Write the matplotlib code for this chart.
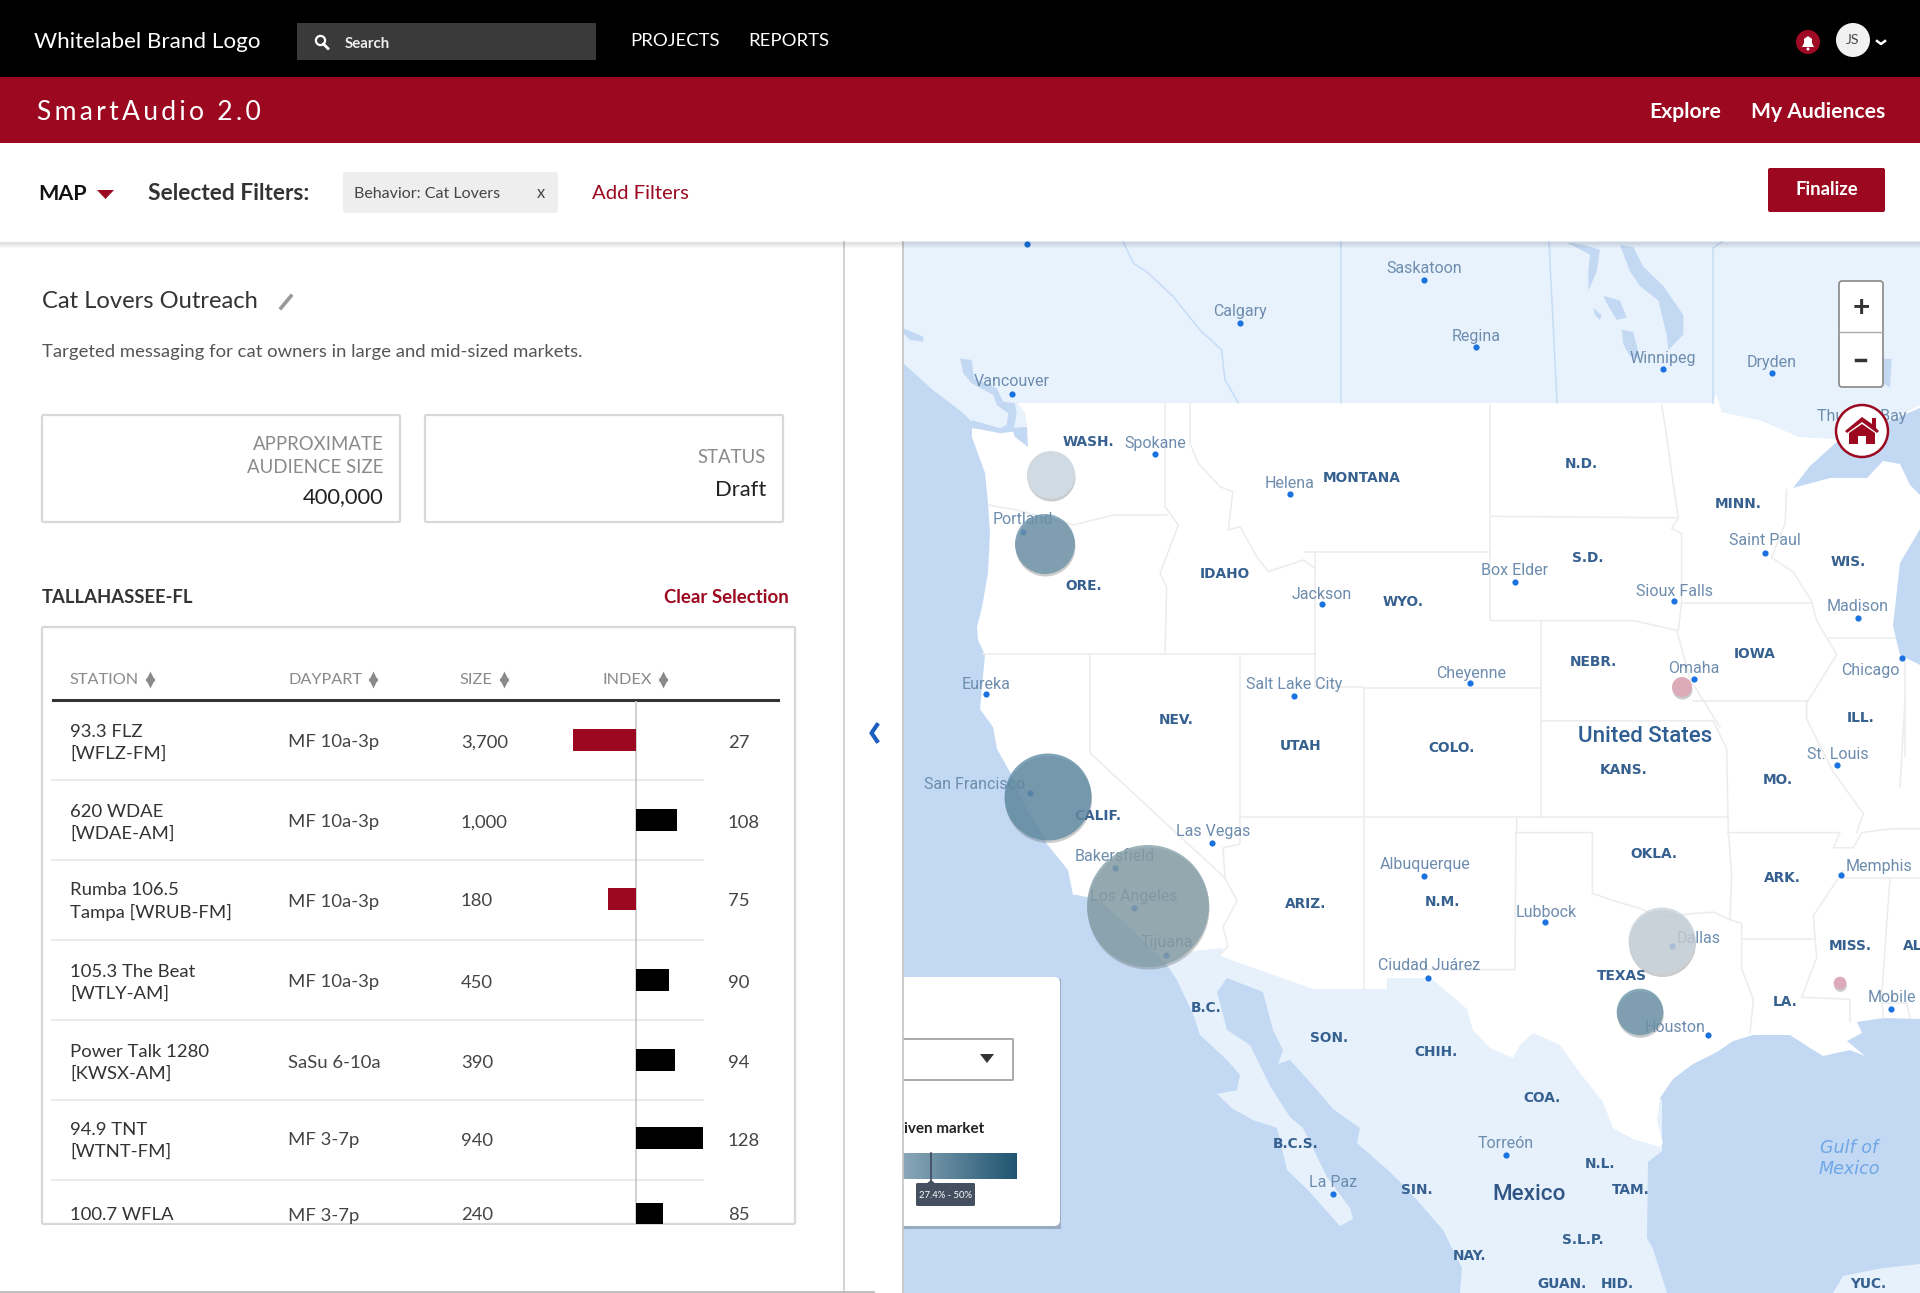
#!/usr/bin/env python3
"""SmartAudio map screen: audience panel, station table and market bubble map."""

import matplotlib
matplotlib.use("Agg")
import matplotlib.pyplot as plt
import numpy as np
from matplotlib.colors import LinearSegmentedColormap
from matplotlib.patches import Circle, FancyBboxPatch, Polygon, Rectangle

plt.rcParams["font.family"] = ["Lato", "DejaVu Sans"]

W, H = 1920, 1293
RED = "#9b081f"
WATER = "#c3d9f3"
FOREIGN = "#e6f1fc"
BORDER = "#ececec"
CITY = "#6d8cae"
STATE = "#35608f"

# table
stations = ["93.3 FLZ\n[WFLZ-FM]", "620 WDAE\n[WDAE-AM]", "Rumba 106.5\nTampa [WRUB-FM]",
            "105.3 The Beat\n[WTLY-AM]", "Power Talk 1280\n[KWSX-AM]", "94.9 TNT\n[WTNT-FM]", "100.7 WFLA"]
dayparts = ["MF 10a-3p", "MF 10a-3p", "MF 10a-3p", "MF 10a-3p", "SaSu 6-10a", "MF 3-7p", "MF 3-7p"]
sizes = ["3,700", "1,000", "180", "450", "390", "940", "240"]
index_values = [27, 108, 75, 90, 94, 128, 85]
index_bars = [-63, 41, -28, 33, 39, 67, 27]
row_y = [741, 821, 900, 981, 1061, 1139, 1214]
bar_y = [740, 820, 898.5, 979.5, 1060, 1138, 1214]
row_rules = [780, 860, 940, 1020, 1100, 1180]

# bubbles on the map
bubble_x = [1051, 1045, 1048, 1148, 1662, 1640, 1682, 1840]
bubble_y = [475, 544, 797, 906, 941, 1012, 687, 983]
bubble_r = [24, 30, 43.5, 61, 33.5, 23.3, 10, 6.3]
bubble_c = ["#cfdae2", "#6c94ab", "#608ca6", "#86a0a9", "#c9d4dc", "#6c94ab", "#dcaab9", "#dcaab9"]
bubble_a = [1.0, 0.8, 0.8, 0.8, 0.8, 0.8, 1.0, 1.0]

# city name, label x, label y, dot x, dot y
city_names = ["Vancouver", "Calgary", "Spokane", "Portland", "Helena", "Jackson", "Eureka", "Salt Lake City",
              "Saskatoon", "Regina", "Winnipeg", "Dryden", "Thunder Bay", "Saint Paul", "Box Elder", "Sioux Falls",
              "Madison", "Omaha", "Chicago", "Cheyenne", "St. Louis", "Memphis", "Albuquerque", "Lubbock",
              "Ciudad Juárez", "Dallas", "Houston", "Mobile", "Torreón", "San Francisco", "Las Vegas", "Bakersfield",
              "Los Angeles", "Tijuana", "La Paz"]
city_lx = [1012, 1240, 1155, 1023, 1290, 1322, 986, 1294, 1424, 1476, 1663, 1772, 1862, 1765, 1515, 1674,
           1858, 1694, 1870, 1471, 1838, 1879, 1425, 1546, 1429, 1699, 1675, 1892, 1506, 975, 1213, 1115,
           1134, 1167, 1333]
city_ly = [380, 310, 442, 518, 482, 593, 683, 683, 267, 335, 357, 361, 415, 539, 569, 590,
           605, 667, 669, 672, 753, 865, 863, 911, 964, 937, 1026, 996, 1142, 783, 830, 855,
           895, 941, 1181]
city_dx = [1012, 1240, 1155, 1023, 1290, 1322, 986, 1294, 1424, 1476, 1663, 1772, 1862, 1765, 1515, 1674,
           1858, 1694, 1902, 1470, 1837, 1841, 1424, 1545, 1428, 1672, 1708, 1891, 1506, 1030, 1212, 1115,
           1134, 1166, 1333]
city_dy = [394, 323, 454, 532, 494, 604, 694, 696, 280, 347, 369, 373, 428, 553, 582, 601,
           618, 679, 658, 683, 765, 875, 876, 922, 978, 946, 1035, 1009, 1155, 793, 843, 868,
           908, 955, 1194]

state_names = ["WASH.", "ORE.", "IDAHO", "MONTANA", "WYO.", "NEV.", "UTAH", "CALIF.", "ARIZ.", "B.C.", "SON.",
               "B.C.S.", "N.D.", "S.D.", "MINN.", "WIS.", "NEBR.", "IOWA", "ILL.", "COLO.", "KANS.", "MO.",
               "OKLA.", "ARK.", "N.M.", "TEXAS", "MISS.", "AL", "LA.", "CHIH.", "COA.", "N.L.", "TAM.", "SIN.",
               "S.L.P.", "NAY.", "GUAN.", "HID.", "YUC."]
state_x = [1088, 1084, 1225, 1362, 1403, 1176, 1301, 1098, 1306, 1206, 1329,
           1296, 1581, 1588, 1738, 1848, 1593, 1755, 1861, 1452, 1624, 1778,
           1654, 1782, 1442, 1622, 1850, 1913, 1785, 1436, 1542, 1600, 1631, 1417,
           1583, 1470, 1562, 1617, 1868]
state_y = [440, 584, 572, 476, 601, 718, 745, 815, 903, 1006, 1036,
           1142, 462, 556, 503, 561, 660, 652, 716, 747, 768, 779,
           852, 877, 900, 975, 944, 945, 1001, 1050, 1096, 1163, 1189, 1189,
           1238, 1255, 1282, 1282, 1282]


def c4(pts):
    return [(900 + x / 3, 240 + y / 3) for x, y in pts]


def c5(pts):
    return [(1400 + x / 3, y / 2.0625) for x, y in pts]


def c6(pts):
    return [(900 + x / 3, 700 + y / 2.64) for x, y in pts]


def c7(pts):
    return [(1400 + x / 3, 700 + y / 2.64) for x, y in pts]


canada_outline = [(903, 241), (1920, 241), (1920, 405), (1880, 425), (1840, 439), (1800, 437), (1760, 420),
                  (1722, 412), (1716, 393), (1713, 403), (1017, 403), (1025, 413), (1027, 427), (1012, 428),
                  (1000, 433), (972, 422), (963, 413), (933, 390), (903, 363)]
mexico_outline = [(1167, 965), (1177, 980), (1193, 1014), (1200, 1035), (1227, 1060), (1240, 1075), (1237, 1090),
                  (1217, 1094), (1233, 1109), (1253, 1120), (1277, 1128), (1287, 1170), (1307, 1189), (1340, 1226),
                  (1353, 1219), (1350, 1208), (1327, 1177), (1303, 1128), (1290, 1117), (1270, 1086), (1250, 1045),
                  (1227, 1030), (1217, 992), (1227, 978), (1263, 992), (1273, 1030), (1283, 1050), (1278, 1064),
                  (1290, 1060), (1317, 1090), (1333, 1109), (1360, 1128), (1357, 1143), (1390, 1172), (1407, 1189),
                  (1417, 1200), (1443, 1230), (1462, 1268), (1460, 1293), (1667, 1293), (1653, 1249), (1647, 1238),
                  (1648, 1162), (1662, 1151), (1662, 1100), (1500, 950), (1300, 900), (1180, 930)]
yucatan_outline = [(1833, 1293), (1843, 1276), (1883, 1268), (1920, 1264), (1920, 1293)]
us_outline = [(1017, 403), (1713, 403), (1716, 393), (1722, 412), (1760, 420), (1800, 437), (1840, 439), (1880, 425),
              (1920, 405), (1920, 1019), (1883, 1018), (1857, 1022), (1862, 1033), (1847, 1041), (1865, 1056),
              (1850, 1050), (1823, 1056), (1810, 1048), (1790, 1035), (1753, 1035), (1733, 1041), (1717, 1052),
              (1693, 1064), (1673, 1079), (1660, 1098), (1657, 1120), (1663, 1143), (1660, 1147), (1633, 1139),
              (1613, 1128), (1603, 1102), (1580, 1073), (1560, 1045), (1533, 1033), (1520, 1045), (1513, 1058),
              (1490, 1048), (1473, 1030), (1467, 1009), (1433, 980), (1428, 978), (1387, 978), (1387, 989),
              (1313, 989), (1220, 956), (1223, 948), (1193, 951), (1167, 965), (1133, 931), (1100, 900), (1077, 895),
              (1073, 895), (1068, 870), (1047, 844), (1040, 829), (1027, 810), (1010, 772), (997, 749), (993, 727),
              (980, 709), (985, 655), (978, 640), (977, 627), (982, 607), (988, 573), (990, 533), (988, 503),
              (985, 473), (972, 437), (972, 428), (1000, 433), (1012, 428), (1015, 437), (1028, 447), (1027, 427),
              (1025, 413)]
lake_superior = [(1793, 488), (1810, 466), (1840, 439), (1880, 425), (1920, 408), (1920, 495), (1910, 485),
                 (1900, 464), (1883, 461), (1867, 478), (1830, 478)]
lake_michigan = [(1920, 529), (1900, 563), (1893, 626), (1900, 655), (1920, 665)]
canada_lakes = [
    c5([(660, 505), (700, 510), (730, 550), (790, 590), (825, 625), (850, 650), (850, 690), (805, 722), (800, 690),
        (775, 620), (720, 590), (690, 560)]),
    c5([(665, 680), (700, 685), (720, 740), (690, 735), (670, 710)]),
    c5([(500, 500), (550, 505), (600, 515), (590, 560), (565, 600), (565, 560), (570, 525)]),
    c5([(610, 610), (660, 620), (680, 655), (650, 660), (620, 625)]),
    c5([(580, 635), (605, 650), (600, 660), (585, 650)]),
    c5([(1440, 740), (1475, 740), (1470, 800), (1450, 790)]),
    c4([(10, 265), (70, 290), (70, 305), (30, 300), (10, 280)]),
    c4([(180, 355), (215, 360), (222, 415), (290, 445), (310, 485), (345, 490), (350, 520), (340, 575), (300, 580),
        (215, 548), (215, 540), (300, 565), (320, 555), (325, 520), (290, 495), (280, 465), (215, 430), (190, 400)]),
]
province_lines = [
    [(1341, 241), (1341, 403)], [(1549, 241), (1557, 403)], [(1723, 241), (1713, 248), (1713, 403)],
    c4([(670, 5), (700, 70), (740, 95), (820, 170), (900, 270), (965, 330), (975, 420), (1015, 488)]),
]
state_lines = [
    c4([(795, 490), (795, 800), (835, 855), (780, 1000), (800, 1040), (795, 1240)]),
    c4([(265, 795), (350, 810), (520, 855), (640, 825), (800, 825)]),
    c4([(250, 1242), (1245, 1242)]),
    c4([(870, 490), (870, 610), (895, 670), (960, 740), (998, 755), (985, 870), (1020, 860), (1070, 950),
        (1105, 995), (1210, 960), (1245, 985)]),
    c4([(1245, 935), (1245, 1342), (1393, 1342)]),
    [(1305, 552), (1490, 552)],
    [(1090, 655), (1090, 753), (1225, 878)],
    [(1225, 878), (1237, 901), (1223, 927), (1228, 946), (1220, 955)],
    [(1240, 655), (1240, 844), (1223, 848), (1225, 878)],
    [(1240, 817), (1727, 817)],
    [(1364, 688), (1364, 989)],
    [(1364, 688), (1540, 688)],
    [(1541, 621), (1541, 817)],
    c7([(350, 310), (350, 350), (577, 350), (577, 510), (640, 530), (720, 550), (780, 575), (860, 565), (940, 560),
        (990, 580), (1025, 590), (1025, 710), (1060, 790), (1050, 880)]),
    c7([(348, 350), (345, 712), (0, 712)]),
    c7([(985, 350), (995, 460), (990, 580)]),
    c7([(1025, 630), (1240, 630)]),
    c7([(985, 350), (1320, 350), (1300, 390), (1360, 390), (1385, 350), (1475, 340), (1560, 340)]),
    c7([(425, 55), (940, 55), (980, 130), (985, 350)]),
    c5([(270, 835), (270, 1280), (700, 1280), (830, 1300), (870, 1400), (960, 1500)]),
    c5([(275, 1065), (830, 1068)]),
    c5([(785, 835), (800, 900), (820, 1000), (835, 1068), (815, 1090), (845, 1100), (845, 1240), (835, 1300)]),
    c5([(845, 1243), (1235, 1243)]),
    c5([(1160, 1010), (1155, 1080), (1115, 1150), (1180, 1180), (1235, 1240), (1250, 1280), (1280, 1315),
        (1310, 1350), (1220, 1450)]),
    c5([(1280, 1315), (1495, 1315)]),
    c5([(880, 1445), (1215, 1445)]),
    c5([(1515, 1300), (1515, 1560)]),
    c7([(1220, 0), (1220, 50), (1300, 190), (1390, 300), (1370, 350)]),
    c7([(1515, 0), (1500, 230)]),
    c7([(1330, 470), (1560, 470)]),
    c7([(1470, 470), (1445, 780), (1450, 840)]),
    c7([(1330, 450), (1240, 570), (1250, 680), (1205, 785), (1350, 790), (1350, 850)]),
    c7([(1450, 800), (1520, 800), (1530, 840)]),
]

fig = plt.figure(figsize=(W / 100, H / 100), dpi=100, facecolor="white")
ax = fig.add_axes([0, 0, 1, 1])
ax.set_xlim(0, W)
ax.set_ylim(H, 0)
ax.axis("off")


def txt(x, y, s, px, color="#333333", ha="left", va="center", z=12, **kw):
    return ax.text(x, y + 1.5, s, fontsize=px * 0.72, color=color, ha=ha, va=va, zorder=z, **kw)


def rect(x0, y0, x1, y1, color, z=1, **kw):
    ax.add_patch(Rectangle((x0, y0), x1 - x0, y1 - y0, facecolor=color, edgecolor="none", zorder=z, **kw))


def rbox(x0, y0, x1, y1, face, edge="none", lw=0, r=4, z=12):
    ax.add_patch(FancyBboxPatch((x0, y0), x1 - x0, y1 - y0, boxstyle=f"round,pad=0,rounding_size={r}",
                                facecolor=face, edgecolor=edge, linewidth=lw, zorder=z))


def poly(pts, color, z=2):
    ax.add_patch(Polygon(pts, closed=True, facecolor=color, edgecolor="none", zorder=z))


# --- map ---
rect(903, 241, W, H, WATER, z=1)
poly(canada_outline, "#e8f2fd")
poly(mexico_outline, FOREIGN)
poly(yucatan_outline, FOREIGN)
poly(us_outline, "white", z=3)
for lake in [lake_superior, lake_michigan] + canada_lakes:
    poly(lake, WATER, z=4)
for line in province_lines:
    ax.plot(*zip(*line), color="#c6dcf6", lw=1.1, zorder=3.5)
for line in state_lines:
    ax.plot(*zip(*line), color=BORDER, lw=1.1, zorder=3.5)

ax.scatter(city_dx, city_dy, s=20, color="#1a73e0", linewidths=0, zorder=5)
ax.scatter([1027], [244], s=20, color="#1a73e0", linewidths=0, zorder=5)
for name, x, y in zip(city_names, city_lx, city_ly):
    txt(x, y, name, 16, color=CITY, ha="center", z=5, family=["Roboto", "DejaVu Sans"])
for name, x, y in zip(state_names, state_x, state_y):
    txt(x, y, name, 13.7, color=STATE, ha="center", z=5, family="DejaVu Sans", weight="bold")
txt(1645, 735, "United States", 22.3, color="#2f5f92", ha="center", z=5, family="Roboto", weight="medium")
txt(1529, 1193, "Mexico", 22.5, color="#2f5685", ha="center", z=5, family="Roboto", weight="medium")
txt(1849, 1157, "Gulf of\nMexico", 17.5, color="#6fa6e6", ha="center", z=5, family="DejaVu Sans", style="italic",
    linespacing=1.2)

# bubbles, with a soft offset shadow underneath
for x, y, r, c, a in zip(bubble_x, bubble_y, bubble_r, bubble_c, bubble_a):
    ax.add_patch(Circle((x + 0.5, y + 2.5), r, facecolor="#555555", alpha=0.3, edgecolor="none", zorder=5.5))
    ax.add_patch(Circle((x, y), r, facecolor=c, alpha=a, edgecolor="none", zorder=6.1))

# zoom control and home button
rbox(1839, 281, 1883, 387, "white", "#888888", 1.2, r=3, z=8)
ax.plot([1839, 1883], [332, 332], color="#aaaaaa", lw=1, zorder=8.1)
txt(1861, 307, "+", 30, color="#333333", ha="center", z=8.2, weight="bold")
ax.plot([1856, 1865], [360, 360], color="#333333", lw=2.5, zorder=8.2)
ax.add_patch(Circle((1862, 431), 26, facecolor="white", edgecolor=RED, lw=1.8, zorder=8))
poly([(1845, 431), (1862, 417), (1872, 424), (1872, 418), (1876, 418), (1876, 428), (1879, 431), (1877, 433),
      (1862, 422), (1847, 433)], RED, z=8.1)
poly([(1849, 433), (1862, 424), (1875, 433), (1875, 444), (1866, 444), (1866, 436), (1858, 436), (1858, 444),
      (1849, 444)], RED, z=8.1)

# legend card sliding out from behind the left panel
rect(903, 979, 1061, 1229, "#7d8fa5", z=6.5, alpha=0.6)
rbox(900, 977, 1060, 1226, "white", r=6, z=7)
rbox(890, 1039, 1013, 1080, "white", "#aaaaaa", 1.4, r=0.5, z=7.1)
poly([(980, 1054), (994, 1054), (987, 1063)], "#333333", z=7.2)
txt(984, 1127, "given market", 15.3, color="#222222", ha="right", z=7.2, weight="bold")
legend_cmap = LinearSegmentedColormap.from_list("legend", ["#8ba8b9", "#1f5470"])
ax.imshow(np.linspace(0, 1, 256).reshape(1, -1), cmap=legend_cmap, extent=(903, 1017, 1179, 1153), aspect="auto",
          zorder=7.2)
ax.set_xlim(0, W)
ax.set_ylim(H, 0)
ax.plot([931, 931], [1153, 1183], color="#3d4b5c", lw=1.2, zorder=7.3)
poly([(926, 1184), (931, 1180), (936, 1184)], "#444f60", z=7.3)
rbox(916, 1183, 975, 1206, "#444f60", r=1.5, z=7.3)
txt(945.5, 1194, "27.4% - 50%", 9.5, color="white", ha="center", z=7.4)

# --- left panel ---
rect(0, 241, 844, H, "white", z=9)
rect(844, 241, 903, H, "white", z=9)
ax.plot([844, 844], [241, H], color="#cccccc", lw=1.2, zorder=9.1)
ax.plot([903, 903], [241, H], color="#c4c4c4", lw=1.2, zorder=9.1)
ax.plot([0, 873], [H - 1, H - 1], color="#bbbbbb", lw=2, zorder=9.1)
ax.plot([877, 871.5, 877], [725, 733, 741], color="#1d5fc0", lw=3, zorder=9.2)

txt(41.5, 300.5, "Cat Lovers Outreach", 23.7, color="#333333", z=10)
ax.plot([281, 291], [308, 296], color="#999999", lw=2.6, zorder=10)
txt(41.5, 350, "Targeted messaging for cat owners in large and mid-sized markets.", 18.5, color="#555555", z=10)

rbox(42, 415, 400, 522, "white", "#d8d8d8", 1.6, r=1.5, z=10)
rbox(425, 415, 783, 522, "white", "#d8d8d8", 1.6, r=1.5, z=10)
txt(383.5, 443, "APPROXIMATE", 18.7, color="#8a8a8a", ha="right")
txt(383.5, 466, "AUDIENCE SIZE", 18.7, color="#8a8a8a", ha="right")
txt(383.5, 496, "400,000", 22, color="#222222", ha="right")
txt(766, 456, "STATUS", 18.7, color="#8a8a8a", ha="right")
txt(766, 488, "Draft", 22, color="#222222", ha="right")

txt(42, 596, "TALLAHASSEE-FL", 18.5, color="#333333", weight="bold")
txt(789, 596, "Clear Selection", 18.6, color=RED, ha="right", weight="bold")

rbox(42, 627, 795, 1224, "white", "#d8d8d8", 1.6, r=1.5, z=10)
for label, x, ax_x in zip(["STATION", "DAYPART", "SIZE", "INDEX"], [70, 288.5, 459, 602], [150, 373, 504, 663]):
    txt(x, 678, label, 16.3, color="#8a8a8a")
    ax.scatter([ax_x], [675.5], marker="^", s=50, color="#8a8a8a", linewidths=0, zorder=12)
    ax.scatter([ax_x], [682.5], marker="v", s=50, color="#8a8a8a", linewidths=0, zorder=12)
ax.plot([53, 778], [699.5, 699.5], color="#333333", lw=2.2, zorder=12)
for y in row_rules:
    ax.plot([52, 703], [y, y], color="#ececec", lw=1.4, zorder=11)
for station, daypart, size, value, y in zip(stations, dayparts, sizes, index_values, row_y):
    txt(70, y, station, 18.5, color="#333333", linespacing=1.42)
    txt(288, y, daypart, 18.5, color="#444444")
    txt(461, y, size, 18.5, color="#444444")
    txt(728, y, str(value), 18.5, color="#444444")
# the last row is cut off by the bottom of the card
rect(43, 1225, 795, 1260, "white", z=13)

bar_ax = fig.add_axes([571.7 / W, 1 - 1224 / H, (704 - 572) / W, (1224 - 701) / H], zorder=2)
bar_ax.patch.set_alpha(0)
bar_ax.set_xlim(-64, 68)
bar_ax.set_ylim(1224, 701)
bar_ax.axis("off")
bar_ax.axvline(0, color="#c8c8c8", lw=1.2, zorder=1)
bar_ax.barh(bar_y, index_bars, height=22, color=[RED if v < 0 else "black" for v in index_bars], zorder=2)

# --- top bars ---
rect(0, 0, W, 77, "black", z=20)
rect(0, 77, W, 143, RED, z=20)
rect(0, 143, W, 241, "white", z=20)
for i in range(6):
    ax.plot([0, W], [241.5 + i, 241.5 + i], color="black", alpha=0.1 - i * 0.016, lw=1, zorder=19)

txt(33.5, 41, "Whitelabel Brand Logo", 22.4, color="white", z=21)
rect(297, 23, 596, 60, "#3a3a3a", z=21)
ax.add_patch(Circle((320.5, 40.5), 4.6, facecolor="none", edgecolor="white", lw=1.6, zorder=22))
ax.plot([323.5, 328], [44, 48.5], color="white", lw=2, zorder=22)
txt(345, 42, "Search", 15, color="#eeeeee", z=22, weight="bold")
txt(630, 39.5, "PROJECTS", 18.5, color="white", z=21)
txt(748, 39.5, "REPORTS", 18.5, color="white", z=21)
ax.add_patch(Circle((1808, 42), 12, facecolor="#a00a24", edgecolor="none", zorder=21))
poly([(1802, 47), (1804, 43), (1804, 39), (1808, 36), (1812, 39), (1812, 43), (1814, 47)], "white", z=22)
ax.add_patch(Circle((1808, 49), 1.5, facecolor="white", edgecolor="none", zorder=22))
ax.add_patch(Circle((1853, 40), 17, facecolor="#f1f1f1", edgecolor="none", zorder=21))
txt(1853, 39, "JS", 14, color="#444444", ha="center", z=22)
ax.plot([1877, 1881, 1885], [41, 44, 41], color="white", lw=1.8, zorder=21)

txt(37, 111.5, "\u200a\u200a".join("SmartAudio 2.0"), 26.5, color="white", z=21)
txt(1649, 110.5, "Explore", 21.2, color="white", z=21, weight="bold")
txt(1751, 110.5, "My Audiences", 21.2, color="white", z=21, weight="bold")

txt(38.5, 192, "MAP", 21.5, color="#111111", z=21, weight="bold")
poly([(97, 190), (114, 190), (105.5, 199)], RED, z=21)
txt(148, 192, "Selected Filters:", 22.8, color="#333333", z=21, weight="bold")
rbox(343, 172, 558, 213, "#eeeeee", r=3, z=21)
txt(354.5, 192, "Behavior: Cat Lovers", 16, color="#444444", z=22)
txt(541, 192, "x", 16.5, color="#444444", ha="center", z=22)
txt(592, 192, "Add Filters", 20.3, color=RED, z=21)
rbox(1768, 168, 1885, 212, RED, r=2, z=21)
txt(1827, 188, "Finalize", 18.5, color="white", ha="center", z=22, weight="bold")

fig.savefig("out.png", dpi=100)
